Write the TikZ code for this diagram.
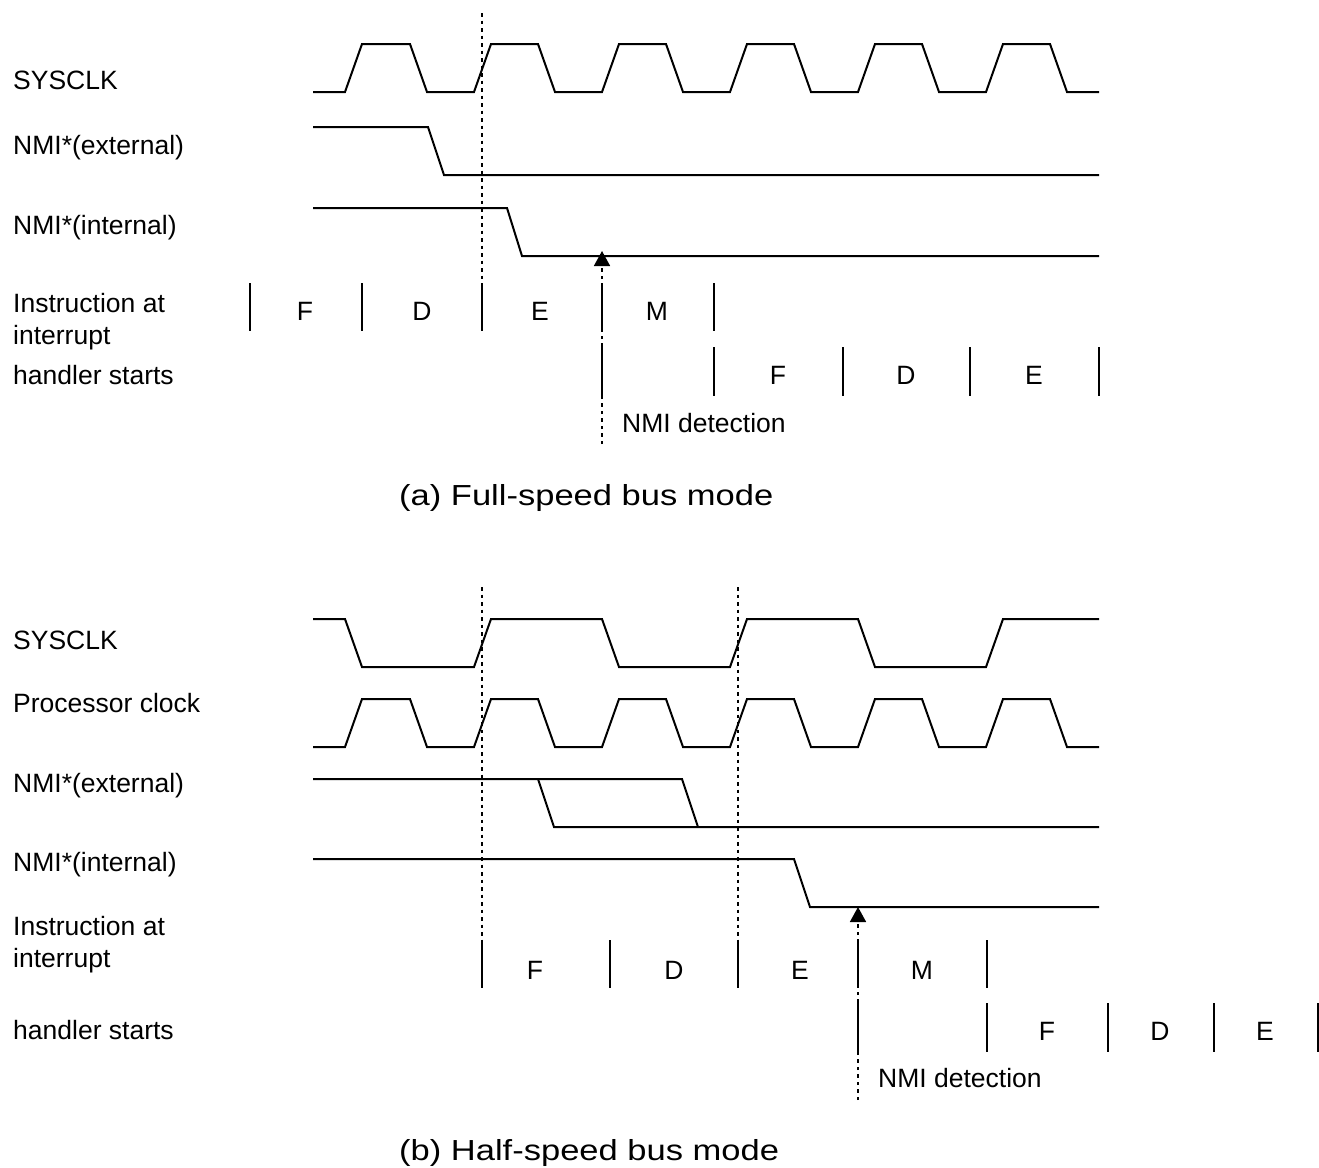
\documentclass[tikz,border=0pt]{standalone}
\usepackage{fontspec}
\setmainfont{Liberation Sans}
\usetikzlibrary{arrows.meta}
\begin{document}
\begin{tikzpicture}[x=1pt,y=-1pt,
  wave/.style={line width=2pt, line join=miter},
  guide/.style={line width=1.6pt, dash pattern=on 3.5pt off 4pt},
  bar/.style={line width=1.6pt},
  lbl/.style={anchor=base west, inner sep=0pt, font=\fontsize{26.5}{32}\selectfont},
  caption/.style={anchor=base west, inner sep=0pt, xscale=1.19, font=\fontsize{29}{34}\selectfont},
  stage/.style={anchor=base, inner sep=0pt, font=\fontsize{26.5}{32}\selectfont},
  detect/.style={guide, -{Triangle[width=16pt,length=15pt]}}]
\useasboundingbox (0,0) rectangle (1319,1167);

% ---------------- (a) Full-speed bus mode ----------------
\node[lbl] (a-sys) at (13,89) {SYSCLK};
\node[lbl] (a-ext) at (13,154) {NMI*(external)};
\node[lbl] (a-int) at (13,234) {NMI*(internal)};
\node[lbl] (a-ins1) at (13,312) {Instruction at};
\node[lbl] (a-ins2) at (13,344) {interrupt};
\node[lbl] (a-hnd) at (13,384) {handler starts};

\draw[guide] (482,13) -- (482,290);

\draw[wave] (313,92) -- (345,92) -- (362,44) -- (410,44) -- (427,92) -- (474,92)
  -- (491,44) -- (538,44) -- (555,92) -- (602,92) -- (619,44) -- (666,44)
  -- (683,92) -- (730,92) -- (747,44) -- (794,44) -- (811,92) -- (858,92)
  -- (875,44) -- (922,44) -- (939,92) -- (986,92) -- (1003,44) -- (1050,44)
  -- (1067,92) -- (1099,92);
\draw[wave] (313,127) -- (428,127) -- (444,175) -- (1099,175);
\draw[wave] (313,208) -- (507,208) -- (522,256) -- (1099,256);

\coordinate (a-tip) at (602,251);
\coordinate (a-foot) at (602,444);
\draw[detect] (a-foot) -- (a-tip);

\foreach \x in {250,362,482,602,714} \draw[bar] (\x,283) -- (\x,331);
\node[stage] (a-f1) at (305,320) {F};
\node[stage] (a-d1) at (422,320) {D};
\node[stage] (a-e1) at (540,320) {E};
\node[stage] (a-m1) at (657,320) {M};
\foreach \x in {602,714,843,970,1099} \draw[bar] (\x,347) -- (\x,396);
\node[stage] (a-f2) at (778,384) {F};
\node[stage] (a-d2) at (906,384) {D};
\node[stage] (a-e2) at (1034,384) {E};

\node[lbl] (a-det) at (622,432) {NMI detection};
\node[caption] (a-cap) at (399,505) {(a) Full-speed bus mode};

% ---------------- (b) Half-speed bus mode ----------------
\node[lbl] (b-sys) at (13,649) {SYSCLK};
\node[lbl] (b-pc) at (13,712) {Processor clock};
\node[lbl] (b-ext) at (13,792) {NMI*(external)};
\node[lbl] (b-int) at (13,871) {NMI*(internal)};
\node[lbl] (b-ins1) at (13,935) {Instruction at};
\node[lbl] (b-ins2) at (13,967) {interrupt};
\node[lbl] (b-hnd) at (13,1039) {handler starts};

\draw[guide] (482,587) -- (482,940);
\draw[guide] (738,587) -- (738,940);

\draw[wave] (313,619) -- (345,619) -- (362,667) -- (474,667) -- (491,619)
  -- (602,619) -- (619,667) -- (730,667) -- (747,619) -- (858,619)
  -- (875,667) -- (986,667) -- (1003,619) -- (1099,619);
\draw[wave] (313,747) -- (345,747) -- (362,699) -- (410,699) -- (427,747) -- (474,747)
  -- (491,699) -- (538,699) -- (555,747) -- (602,747) -- (619,699) -- (666,699)
  -- (683,747) -- (730,747) -- (747,699) -- (794,699) -- (811,747) -- (858,747)
  -- (875,699) -- (922,699) -- (939,747) -- (986,747) -- (1003,699) -- (1050,699)
  -- (1067,747) -- (1099,747);
\draw[wave] (313,779) -- (682,779) -- (698,827);
\draw[wave] (538,779) -- (554,827) -- (1099,827);
\draw[wave] (313,859) -- (794,859) -- (810,907) -- (1099,907);

\coordinate (b-tip) at (858,907);
\coordinate (b-foot) at (858,1100);
\draw[detect] (b-foot) -- (b-tip);

\foreach \x in {482,610,738,858,987} \draw[bar] (\x,940) -- (\x,988);
\node[stage] (b-f1) at (535,979) {F};
\node[stage] (b-d1) at (674,979) {D};
\node[stage] (b-e1) at (800,979) {E};
\node[stage] (b-m1) at (922,979) {M};
\foreach \x in {858,987,1108,1214,1318} \draw[bar] (\x,1003) -- (\x,1052);
\node[stage] (b-f2) at (1047,1040) {F};
\node[stage] (b-d2) at (1160,1040) {D};
\node[stage] (b-e2) at (1265,1040) {E};

\node[lbl] (b-det) at (878,1087) {NMI detection};
\node[caption] (b-cap) at (399,1160) {(b) Half-speed bus mode};
\end{tikzpicture}
\end{document}
